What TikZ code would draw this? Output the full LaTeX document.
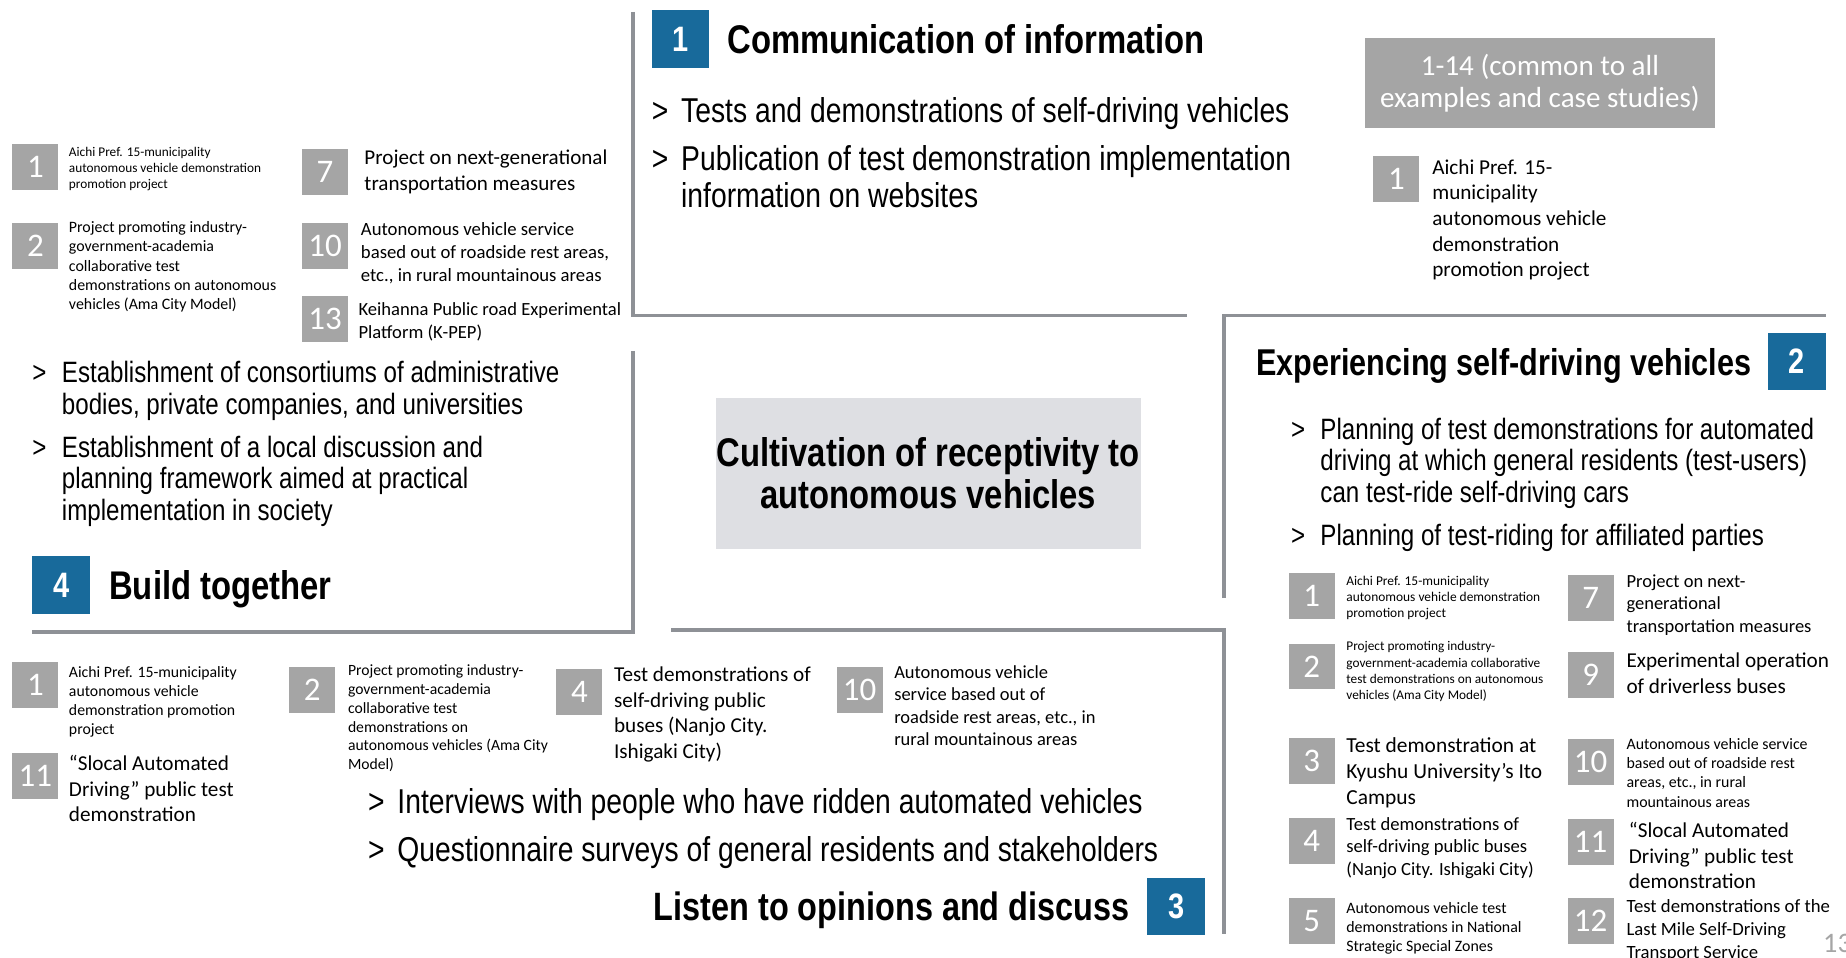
\documentclass[tikz,border=0pt]{standalone}
\usepackage{fontspec}
\setmainfont{Carlito}
\newfontfamily\narrowfont[FakeStretch=0.82]{Liberation Sans}
\usetikzlibrary{positioning}
\newcommand\upx{0.11773mm}
\newcommand\pxsize[2][1.21]{\fontsize{\fpeval{#2*0.3349}}{\fpeval{#2*0.3349*#1}}\selectfont}
% name, number, box x, box y, text x, centre of first line, size, text
\newcommand\numitem[8]{%
  \node[numbox] (#1) at (#3,#4) {#2};
  \node[itemtext, font=\pxsize{#7}] (#1txt) at (#5,{#6-0.4*#7}) {#8};
}
% name, x, centre of first line, size, text
\newcommand\bulletitem[5]{%
  \node[chev, font={\narrowfont\pxsize{#4}}] (#1m) at (#2,{#3-0.38*#4}) {>\vphantom{l}};
  \node[bullet, font={\narrowfont\pxsize[1.07]{#4}}] (#1) at ({#2+25},{#3-0.38*#4}) {#5};
}

\begin{document}
\begin{tikzpicture}[x=\upx, y=-\upx,
    numbox/.style={fill=boxgray, text=white, anchor=north west, inner sep=0pt,
      minimum size=39*\upx, font=\pxsize{28}},
    itemtext/.style={anchor=north west, align=left, inner sep=0pt},
    bluebox/.style={fill=boxblue, text=white, anchor=north west, inner sep=0pt,
      minimum size=49*\upx, font={\narrowfont\bfseries\pxsize{30}}},
    heading/.style={inner sep=0pt, text depth=0pt, font={\narrowfont\bfseries\pxsize{34}}},
    chev/.style={anchor=north west, inner sep=0pt},
    bullet/.style={anchor=north west, align=left, inner sep=0pt},
    panel/.style={draw=linegray, line width=1.1pt}]
    \definecolor{boxblue}{HTML}{186A9B}
    \definecolor{boxgray}{HTML}{A5A5A5}
    \definecolor{coregray}{HTML}{DEDFE3}
    \definecolor{linegray}{HTML}{8E9196}
    \useasboundingbox (0,0) rectangle (1568,813);

    \draw[panel] (538,10) |- (1008,268);   %top centre frame
    \draw[panel] (1040,508) |- (1551,268); %right frame
    \draw[panel] (538,298) |- (27,537);    %left frame
    \draw[panel] (570,535) -| (1040,793);  %bottom frame

    \node[fill=coregray, inner sep=0pt, minimum width=361*\upx, minimum height=128*\upx, align=center,
      font={\narrowfont\bfseries\pxsize[1.06]{34}}] (core) at (788.5,402)
      {Cultivation of receptivity to\\autonomous vehicles};
    \node[fill=boxgray, text=white, inner sep=0pt, minimum width=298*\upx, minimum height=77*\upx, align=center,
      font={\pxsize[1.09]{24.7}}] (common) at (1308,70.5)
      {1-14 (common to all\\examples and case studies)};

    \node[bluebox] (b1) at (553,8) {1};
    \node[heading, right=1.65mm of b1] (h1) {Communication of information};
    \node[bluebox] (b2) at (1501,282) {2};
    \node[heading, font={\narrowfont\bfseries\pxsize{31.7}}, left=1.53mm of b2] (h2) {Experiencing self-driving vehicles};
    \node[bluebox] (b3) at (974,745) {3};
    \node[heading, font={\narrowfont\bfseries\pxsize{33.6}}, left=1.65mm of b3] (h3) {Listen to opinions and discuss};
    \node[bluebox] (b4) at (27,472) {4};
    \node[heading, right=1.77mm of b4] (h4) {Build together};

    \bulletitem{tca}{553}{93}{29.3}{Tests and demonstrations of self-driving vehicles}
    \bulletitem{tcb}{553}{134}{29.3}{Publication of test demonstration implementation\\information on websites}
    \bulletitem{lfa}{27}{316}{25}{Establishment of consortiums of administrative\\bodies, private companies, and universities}
    \bulletitem{lfb}{27}{379}{25}{Establishment of a local discussion and\\planning framework aimed at practical\\implementation in society}
    \bulletitem{rta}{1096}{364}{25}{Planning of test demonstrations for automated\\driving at which general residents (test-users)\\can test-ride self-driving cars}
    \bulletitem{rtb}{1096}{454}{25}{Planning of test-riding for affiliated parties}
    \bulletitem{bta}{312}{680}{29.3}{Interviews with people who have ridden automated vehicles}
    \bulletitem{btb}{312}{721}{29.3}{Questionnaire surveys of general residents and stakeholders}

    \numitem{tla}{1}{10}{122}{58}{129}{11.3}{Aichi Pref. 15-municipality\\autonomous vehicle demonstration\\promotion project}
    \numitem{tlb}{7}{256}{126}{309}{134}{17.9}{Project on next-generational\\transportation measures}
    \numitem{tlc}{2}{10}{189}{58}{193}{13.5}{Project promoting industry-\\government-academia\\collaborative test\\demonstrations on autonomous\\vehicles (Ama City Model)}
    \numitem{tld}{10}{256}{189}{306}{195}{15.9}{Autonomous vehicle service\\based out of roadside rest areas,\\etc., in rural mountainous areas}
    \numitem{tle}{13}{256}{251}{304}{263}{15.8}{Keihanna Public road Experimental\\Platform (K-PEP)}
    \numitem{tra}{1}{1166}{132}{1216}{142}{18}{Aichi Pref. 15-\\municipality\\autonomous vehicle\\demonstration\\promotion project}
    \numitem{rga}{1}{1094}{486}{1143}{493}{11.4}{Aichi Pref. 15-municipality\\autonomous vehicle demonstration\\promotion project}
    \numitem{rgb}{2}{1094}{546}{1143}{549}{11.3}{Project promoting industry-\\government-academia collaborative\\test demonstrations on autonomous\\vehicles (Ama City Model)}
    \numitem{rgc}{3}{1094}{626}{1143}{633}{18.2}{Test demonstration at\\Kyushu University’s Ito\\Campus}
    \numitem{rgd}{4}{1094}{694}{1143}{700}{15.8}{Test demonstrations of\\self-driving public buses\\(Nanjo City. Ishigaki City)}
    \numitem{rge}{5}{1094}{762}{1143}{771}{13.5}{Autonomous vehicle test\\demonstrations in National\\Strategic Special Zones}
    \numitem{rgf}{7}{1331}{488}{1381}{494}{15.7}{Project on next-\\generational\\transportation measures}
    \numitem{rgg}{9}{1331}{553}{1381}{561}{18}{Experimental operation\\of driverless buses}
    \numitem{rgh}{10}{1331}{627}{1381}{632}{13.5}{Autonomous vehicle service\\based out of roadside rest\\areas, etc., in rural\\mountainous areas}
    \numitem{rgi}{11}{1331}{695}{1383}{705}{18}{“Slocal Automated\\Driving” public test\\demonstration}
    \numitem{rgj}{12}{1331}{762}{1381}{770}{15.9}{Test demonstrations of the\\Last Mile Self-Driving\\Transport Service}
    \numitem{bla}{1}{10}{562}{58}{571}{13.4}{Aichi Pref. 15-municipality\\autonomous vehicle\\demonstration promotion\\project}
    \numitem{blb}{11}{10}{639}{58}{648}{18}{“Slocal Automated\\Driving” public test\\demonstration}
    \numitem{blc}{2}{245}{566}{295}{569}{13.3}{Project promoting industry-\\government-academia\\collaborative test\\demonstrations on\\autonomous vehicles (Ama City\\Model)}
    \numitem{bld}{4}{472}{568}{521}{573}{18}{Test demonstrations of\\self-driving public\\buses (Nanjo City.\\Ishigaki City)}
    \numitem{ble}{10}{710}{566}{759}{571}{15.7}{Autonomous vehicle\\service based out of\\roadside rest areas, etc., in\\rural mountainous areas}

    \node[anchor=west, inner sep=0pt, text=boxgray, font=\pxsize{24}] (page) at (1548,801) {13};
\end{tikzpicture}
\end{document}
